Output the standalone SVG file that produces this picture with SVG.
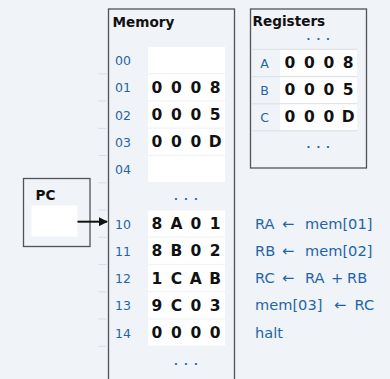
<svg xmlns="http://www.w3.org/2000/svg" width="390" height="379" viewBox="0 0 390 379">
  <defs>
    <style>
      .bg { fill: #f0f3f7; }
      .frame { fill: #f0f3f7; stroke: #505458; stroke-width: 1.3; }
      .cell { fill: #ffffff; }
      .sep { stroke: #d9dfe6; stroke-width: 1; }
      .title { font-family: "DejaVu Sans", Verdana, sans-serif; font-weight: bold; font-size: 13.6px; fill: #111; }
      .addr { font-family: "DejaVu Sans", Verdana, sans-serif; font-size: 12.5px; fill: #1f65a8; }
      .val { font-family: "DejaVu Sans", Verdana, sans-serif; font-weight: bold; font-size: 15.5px; fill: #111; text-anchor: middle; }
      .dots { font-family: "DejaVu Sans", Verdana, sans-serif; font-weight: bold; font-size: 10px; fill: #1f65a8; text-anchor: middle; }
      .code { font-family: "DejaVu Sans", Verdana, sans-serif; font-size: 14.6px; fill: #1f65a8; }
    </style>
    <marker id="arrow" viewBox="0 0 10 10" refX="9" refY="5" markerWidth="9" markerHeight="9" markerUnits="userSpaceOnUse" orient="auto">
      <path d="M0,0 L10,5 L0,10 z" fill="#111"/>
    </marker>
  </defs>

  <rect class="bg" x="0" y="0" width="390" height="379"/>

  <!-- Memory -->
  <g id="memory">
    <rect class="frame" x="108.5" y="9" width="126" height="380"/>
    <text class="title" x="112.5" y="26.5">Memory</text>
    <g class="seps">
      <line class="sep" x1="98" y1="73.8" x2="108" y2="73.8"/>
      <line class="sep" x1="98" y1="101" x2="108" y2="101"/>
      <line class="sep" x1="98" y1="128.3" x2="108" y2="128.3"/>
      <line class="sep" x1="98" y1="155.5" x2="108" y2="155.5"/>
      <line class="sep" x1="98" y1="182.8" x2="108" y2="182.8"/>
      <line class="sep" x1="98" y1="210" x2="108" y2="210"/>
      <line class="sep" x1="98" y1="237.3" x2="108" y2="237.3"/>
      <line class="sep" x1="98" y1="264.5" x2="108" y2="264.5"/>
      <line class="sep" x1="98" y1="291.8" x2="108" y2="291.8"/>
      <line class="sep" x1="98" y1="319" x2="108" y2="319"/>
      <line class="sep" x1="98" y1="346.3" x2="108" y2="346.3"/>
    </g>
    <rect class="cell" x="148" y="47" width="77" height="26"/>
    <rect class="cell" x="148" y="74.3" width="77" height="26"/>
    <rect class="cell" x="148" y="101.5" width="77" height="26"/>
    <rect class="cell" x="148" y="128.8" width="77" height="26"/>
    <rect class="cell" x="148" y="156" width="77" height="26"/>
    <rect class="cell" x="148" y="210.5" width="77" height="26"/>
    <rect class="cell" x="148" y="237.8" width="77" height="26"/>
    <rect class="cell" x="148" y="265" width="77" height="26"/>
    <rect class="cell" x="148" y="292.3" width="77" height="26"/>
    <rect class="cell" x="148" y="319.5" width="77" height="26"/>

    <text class="addr" x="115" y="65">00</text>
    <text class="addr" x="115" y="92.3">01</text>
    <text class="addr" x="115" y="119.5">02</text>
    <text class="addr" x="115" y="146.8">03</text>
    <text class="addr" x="115" y="174">04</text>
    <text class="dots" x="176 186 196" y="200">...</text>
    <text class="addr" x="115" y="228.5">10</text>
    <text class="addr" x="115" y="255.8">11</text>
    <text class="addr" x="115" y="283">12</text>
    <text class="addr" x="115" y="310.3">13</text>
    <text class="addr" x="115" y="337.5">14</text>
    <text class="dots" x="176 186 196" y="364.5">...</text>

    <text class="val" x="157 176.4 195.8 215.2" y="92.8">0008</text>
    <text class="val" x="157 176.4 195.8 215.2" y="120">0005</text>
    <text class="val" x="157 176.4 195.8 215.2" y="147.3">000D</text>
    <text class="val" x="157 176.4 195.8 215.2" y="229">8A01</text>
    <text class="val" x="157 176.4 195.8 215.2" y="256.3">8B02</text>
    <text class="val" x="157 176.4 195.8 215.2" y="283.5">1CAB</text>
    <text class="val" x="157 176.4 195.8 215.2" y="310.8">9C03</text>
    <text class="val" x="157 176.4 195.8 215.2" y="338">0000</text>
  </g>

  <!-- Registers -->
  <g id="registers">
    <rect class="frame" x="250.5" y="9" width="116" height="159"/>
    <text class="title" x="252.5" y="26">Registers</text>
    <text class="dots" x="308.5 318.3 328" y="40">...</text>
    <line class="sep" x1="251" y1="49.3" x2="357" y2="49.3"/>
    <line class="sep" x1="251" y1="76.7" x2="357" y2="76.7"/>
    <line class="sep" x1="251" y1="103.8" x2="357" y2="103.8"/>
    <line class="sep" x1="251" y1="130.8" x2="357" y2="130.8"/>
    <rect class="cell" x="280" y="50" width="77" height="25.7"/>
    <rect class="cell" x="280" y="77.3" width="77" height="25.7"/>
    <rect class="cell" x="280" y="104.3" width="77" height="25.7"/>
    <text class="addr" x="264.5" y="67.5" text-anchor="middle">A</text>
    <text class="addr" x="264.5" y="94.8" text-anchor="middle">B</text>
    <text class="addr" x="264.5" y="121.8" text-anchor="middle">C</text>
    <text class="val" x="290 309.4 328.8 348.2" y="68">0008</text>
    <text class="val" x="290 309.4 328.8 348.2" y="95.3">0005</text>
    <text class="val" x="290 309.4 328.8 348.2" y="122.3">000D</text>
    <text class="dots" x="308.5 318.3 328" y="148">...</text>
  </g>

  <!-- Program counter -->
  <g id="pc">
    <rect class="frame" x="23.5" y="178.5" width="66.5" height="68"/>
    <text class="title" x="35.5" y="199.5">PC</text>
    <rect class="cell" x="31.5" y="205.5" width="46" height="31"/>
  </g>

  <!-- Connectors -->
  <g id="connectors">
    <line x1="77.5" y1="221.7" x2="107" y2="221.7" stroke="#111" stroke-width="2" marker-end="url(#arrow)"/>
  </g>

  <!-- Instruction listing -->
  <g id="listing">
    <text class="code" x="255" y="228.5">RA<tspan x="282">←</tspan><tspan x="305">mem[01]</tspan></text>
    <text class="code" x="255" y="255.8">RB<tspan x="282">←</tspan><tspan x="305">mem[02]</tspan></text>
    <text class="code" x="255" y="283">RC<tspan x="282">←</tspan><tspan x="305">RA</tspan><tspan x="331">+</tspan><tspan x="347">RB</tspan></text>
    <text class="code" x="255" y="310.3">mem[03]<tspan x="334">←</tspan><tspan x="354.5">RC</tspan></text>
    <text class="code" x="255" y="337.5">halt</text>
  </g>
</svg>
